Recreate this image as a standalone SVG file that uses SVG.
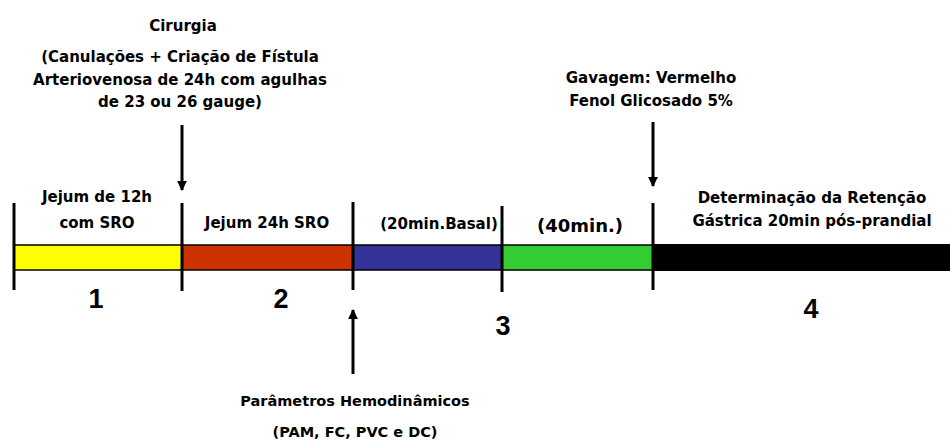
<svg xmlns="http://www.w3.org/2000/svg" width="950" height="442" viewBox="0 0 950 442">
<style>
.t{font-family:"DejaVu Sans","Liberation Sans",sans-serif;font-weight:bold;font-size:15px;fill:#000;text-anchor:middle}
.n{font-family:"Liberation Sans","DejaVu Sans",sans-serif;font-weight:bold;font-size:27px;fill:#000;text-anchor:middle}
.seg{stroke:#000;stroke-width:1.5}
.tick{stroke:#000;stroke-width:3}
.arr{stroke:#000;stroke-width:3;fill:none}
</style>
<defs>
<marker id="ah" viewBox="0 0 10 10" refX="9" refY="5" markerWidth="3.3" markerHeight="3.4" orient="auto" markerUnits="strokeWidth">
<path d="M0,0 L10,5 L0,10 z" fill="#000"/>
</marker>
</defs>
<rect width="950" height="442" fill="#fff"/>
<g id="phase1">
<rect class="seg" x="14" y="245" width="168" height="25" fill="#FFFF00"/>
<text class="t" x="97" y="202">Jejum de 12h</text>
<text class="t" x="97" y="228">com SRO</text>
<text class="n" x="96" y="308">1</text>
</g>
<g id="phase2">
<rect class="seg" x="182" y="245" width="171" height="25" fill="#CC3300"/>
<text class="t" x="267" y="228">Jejum 24h SRO</text>
<text class="n" x="281" y="308">2</text>
</g>
<g id="phase3a">
<rect class="seg" x="353" y="245" width="149" height="25" fill="#333399"/>
<text class="t" x="439" y="229">(20min.Basal)</text>
</g>
<g id="phase3b">
<rect class="seg" x="502" y="245" width="151" height="25" fill="#33CC33"/>
<text class="t" x="580" y="232" style="font-size:18px">(40min.)</text>
<text class="n" x="503" y="335">3</text>
</g>
<g id="phase4">
<rect x="653" y="244" width="297" height="27" fill="#000"/>
<text class="t" x="812" y="203">Determinação da Retenção</text>
<text class="t" x="812" y="226">Gástrica 20min pós-prandial</text>
<text class="n" x="811" y="318">4</text>
</g>
<g id="ticks">
<line class="tick" x1="14" y1="203" x2="14" y2="290"/>
<line class="tick" x1="182" y1="203" x2="182" y2="291"/>
<line class="tick" x1="353" y1="202" x2="353" y2="290"/>
<line class="tick" x1="502" y1="206" x2="502" y2="292"/>
<line class="tick" x1="653" y1="203" x2="653" y2="290"/>
</g>
<g id="cirurgia">
<text class="t" x="183" y="31">Cirurgia</text>
<text class="t" x="180" y="62">(Canulações + Criação de Fístula</text>
<text class="t" x="180" y="85">Arteriovenosa de 24h com agulhas</text>
<text class="t" x="180" y="107">de 23 ou 26 gauge)</text>
</g>
<g id="gavagem">
<text class="t" x="651" y="83">Gavagem: Vermelho</text>
<text class="t" x="651" y="106">Fenol Glicosado 5%</text>
</g>
<g id="hemodinamicos">
<text class="t" x="355" y="406" style="font-size:14.5px">Parâmetros Hemodinâmicos</text>
<text class="t" x="355" y="437" style="font-size:14.5px">(PAM, FC, PVC e DC)</text>
</g>
<g id="connectors">
<line class="arr" x1="182" y1="125" x2="182" y2="190" marker-end="url(#ah)"/>
<line class="arr" x1="653" y1="122" x2="653" y2="186" marker-end="url(#ah)"/>
<line class="arr" x1="353" y1="374" x2="353" y2="310" marker-end="url(#ah)"/>
</g>
</svg>
